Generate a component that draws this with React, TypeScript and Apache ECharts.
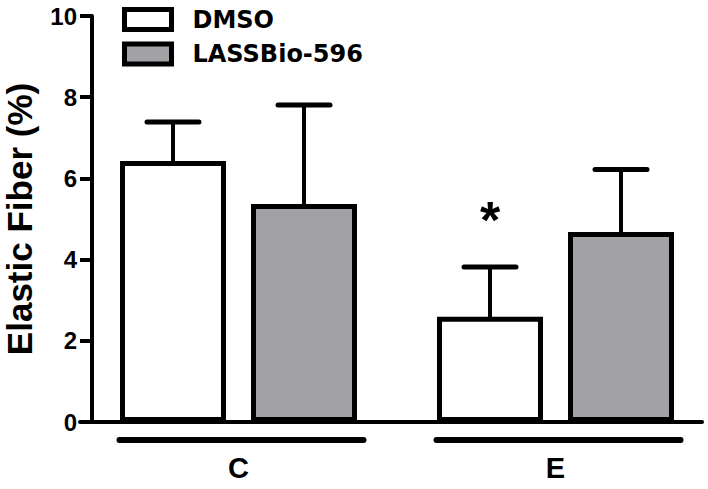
import React, { useEffect, useRef } from "react";
import * as echarts from "echarts";

const categories = ["C", "E"];
const seriesNames = ["DMSO", "LASSBio-596"];
const dmsoMean = [6.43, 2.59];
const dmsoErr = [0.96, 1.23];
const lassMean = [5.37, 4.68];
const lassErr = [2.44, 1.54];
const dmsoSig = ["", "*"];
const yTicks = { min: 0, max: 10, interval: 2 };
const yTitle = "Elastic Fiber (%)";

const BAR_W = 106;
const BAR_GAP = 25;
const OFFSET = (BAR_W + BAR_GAP) / 2;

function errorSeries(name: string, mean: number[], err: number[], sig: string[], dir: number) {
  return {
    type: "custom",
    name: name + "-err",
    xAxisIndex: 0,
    yAxisIndex: 0,
    z: 5,
    silent: true,
    data: mean.map((m, i) => [i, m, err[i], sig[i] ? 1 : 0]),
    renderItem: (params: any, api: any) => {
      const i = api.value(0);
      const m = api.value(1);
      const e = api.value(2);
      const base = api.coord([i, m]);
      const top = api.coord([i, m + e]);
      const x = base[0] + dir * OFFSET;
      const children: any[] = [
        {
          type: "line",
          shape: { x1: x, y1: base[1] + 2, x2: x, y2: top[1] },
          style: { stroke: "#000", lineWidth: 4 },
        },
        {
          type: "line",
          shape: { x1: x - 26, y1: top[1], x2: x + 26, y2: top[1] },
          style: { stroke: "#000", lineWidth: 5, lineCap: "round" },
        },
      ];
      if (sig[i]) {
        children.push({
          type: "text",
          x: x,
          y: top[1] - 47,
          style: {
            text: sig[i],
            fill: "#000",
            font: "bold 52px 'Liberation Sans', Arial, sans-serif",
            align: "center",
            verticalAlign: "middle",
          },
        });
      }
      return { type: "group", children };
    },
  };
}

export default function App() {
  const ref = useRef<HTMLDivElement>(null);
  useEffect(() => {
    if (!ref.current) return;
    const chart = echarts.init(ref.current, undefined, { renderer: "svg" });
    const option: any = {
      animation: false,
      backgroundColor: "#fff",
      textStyle: { fontFamily: "'Liberation Sans', Arial, sans-serif" },
      grid: [
        { left: 80, right: -6, top: 16, bottom: 67, containLabel: false, outerBoundsMode: "none" },
        { left: 80, right: 6, top: 16, bottom: 67, containLabel: false, outerBoundsMode: "none" },
      ],
      legend: {
        left: 122,
        top: 7,
        orient: "vertical",
        padding: 0,
        itemWidth: 47,
        itemHeight: 20,
        itemGap: 9.5,
        selectedMode: false,
        textStyle: {
          fontFamily: "'DejaVu Sans', sans-serif",
          fontWeight: "bold",
          fontSize: 24,
          lineHeight: 23,
          color: "#000",
          padding: [0, 0, 0, 16],
        },
        data: [
          { name: seriesNames[0], icon: "rect", itemStyle: { color: "#fff", borderColor: "#000", borderWidth: 5 } },
          { name: seriesNames[1], icon: "rect", itemStyle: { color: "#a2a1a6", borderColor: "#000", borderWidth: 5 } },
        ],
      },
      xAxis: [
        {
          type: "category",
          gridIndex: 0,
          data: categories,
          axisLine: { show: false },
          axisTick: { show: false },
          axisLabel: {
            margin: 31,
            fontSize: 29,
            fontWeight: "bold",
            color: "#000",
            fontFamily: "'Liberation Sans', Arial, sans-serif",
          },
        },
        {
          type: "value",
          gridIndex: 1,
          min: 0,
          max: 1,
          axisLine: { show: true, lineStyle: { color: "#000", width: 4 } },
          axisTick: { show: false },
          axisLabel: { show: false },
          splitLine: { show: false },
        },
      ],
      yAxis: [
        {
          type: "value",
          gridIndex: 0,
          min: yTicks.min,
          max: yTicks.max,
          interval: yTicks.interval,
          offset: -12,
          name: yTitle,
          nameLocation: "middle",
          nameGap: 55,
          nameTextStyle: {
            fontSize: 35,
            lineHeight: 35,
            fontWeight: "bold",
            color: "#000",
            fontFamily: "'Liberation Sans', Arial, sans-serif",
          },
          axisLine: { show: true, lineStyle: { color: "#000", width: 4 } },
          axisTick: { show: true, length: 12, lineStyle: { color: "#000", width: 4 } },
          axisLabel: {
            margin: 15,
            fontSize: 24,
            fontWeight: "bold",
            color: "#000",
            fontFamily: "'Liberation Sans', Arial, sans-serif",
          },
          splitLine: { show: false },
        },
        { type: "value", gridIndex: 1, show: false, min: 0, max: 1 },
      ],
      series: [
        {
          type: "bar",
          name: seriesNames[0],
          xAxisIndex: 0,
          yAxisIndex: 0,
          data: dmsoMean,
          barWidth: BAR_W,
          barGap: (BAR_GAP / BAR_W) * 100 + "%",
          itemStyle: { color: "#fff", borderColor: "#000", borderWidth: 5 },
          z: 3,
        },
        {
          type: "bar",
          name: seriesNames[1],
          xAxisIndex: 0,
          yAxisIndex: 0,
          data: lassMean,
          barWidth: BAR_W,
          barGap: (BAR_GAP / BAR_W) * 100 + "%",
          itemStyle: { color: "#a2a1a6", borderColor: "#000", borderWidth: 5 },
          z: 3,
        },
        errorSeries(seriesNames[0], dmsoMean, dmsoErr, dmsoSig, -1),
        errorSeries(seriesNames[1], lassMean, lassErr, ["", ""], 1),
        {
          type: "custom",
          name: "group-lines",
          xAxisIndex: 0,
          yAxisIndex: 0,
          silent: true,
          data: categories.map((c, i) => [i, 0]),
          renderItem: (params: any, api: any) => {
            const p = api.coord([api.value(0), 0]);
            const cx = p[0] + 3;
            return {
              type: "line",
              shape: { x1: cx - 122, y1: p[1] + 18, x2: cx + 122, y2: p[1] + 18 },
              style: { stroke: "#000", lineWidth: 6, lineCap: "round" },
            };
          },
        },
      ],
    };
    chart.setOption(option);
    return () => chart.dispose();
  }, []);
  return (
    <div
      ref={ref}
      style={{ position: "fixed", left: 0, top: 0, width: 708, height: 489, background: "#fff" }}
    />
  );
}
